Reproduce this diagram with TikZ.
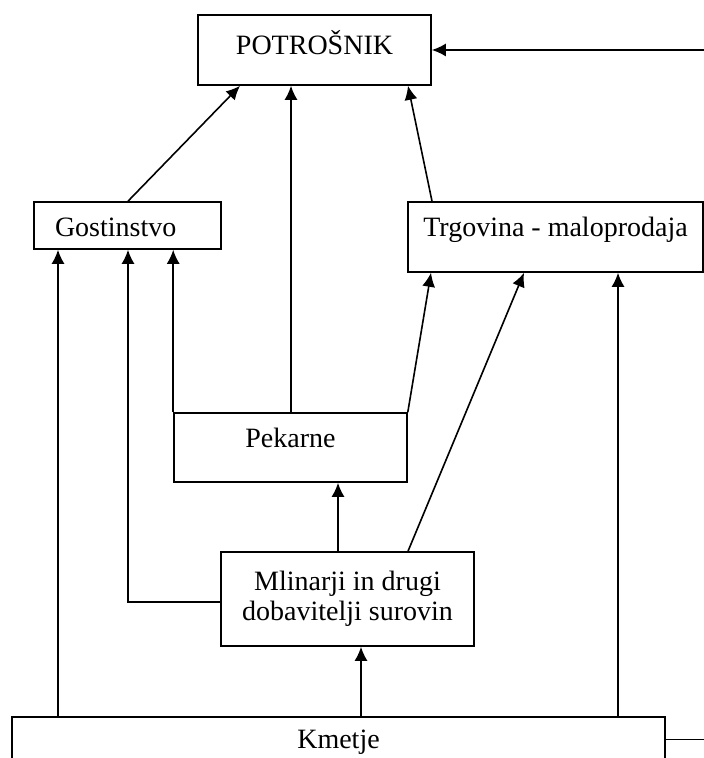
\documentclass[tikz,border=0pt]{standalone}
\usepackage{fontspec}
\setmainfont{Liberation Serif}
\usepackage{tikz}
\usetikzlibrary{arrows.meta,positioning,calc}

\begin{document}
\begin{tikzpicture}[
x=0.5pt, y=-0.5pt, line width=0.8pt,
>={Latex[length=7pt,width=6.5pt]},
box-node/.style = {rectangle,draw=black,line width=0.8pt,inner ysep=0pt,
  font=\fontsize{14}{15}\selectfont}
]
\useasboundingbox (0,0) rectangle (704,758);

\node [box-node, minimum width=116.5pt, text height=20pt, text depth=15pt] (potrosnik) at (314.5, 50) {POTROŠNIK};
\node [box-node, text width=72.5pt, inner xsep=10.5pt, align=left, text height=17.5pt, text depth=6pt] (gostinstvo) at (127.5, 225.5) {Gostinstvo};
\node [box-node, minimum width=147.5pt, text height=17.5pt, text depth=17.5pt] (trgovina) at (555.5, 237) {Trgovina - maloprodaja};

\node [box-node, minimum width=116.5pt, text height=17pt, text depth=17.5pt] (pekarne) at (290.5, 447.5) {Pekarne};
\node [box-node, minimum width=126.5pt, minimum height=47pt, align=center] (mlinarji) at (347.5, 599) {Mlinarji in drugi\\dobavitelji surovin};

\node [box-node, minimum width=326.5pt, text height=15.5pt, text depth=10pt] (kmetje) at (338.5, 742.5) {Kmetje};


% arrows
\draw[->] (gostinstvo.north -| 128,0) -- (potrosnik.south -| 240,0);
\draw[->] (pekarne.north -| 291,0) -- (potrosnik.south -| 291,0);
\draw[->] (trgovina.north -| 432,0) -- (potrosnik.south -| 408,0);

\draw[->] (kmetje.north -| 58,0) -- (gostinstvo.south -| 58,0);
\draw[->] (mlinarji.west |- 0,602) -| (gostinstvo.south -| 128,0);
\draw[->] (pekarne.north west) -- (gostinstvo.south -| pekarne.north west);

\draw[->] (pekarne.north east) -- (trgovina.south -| 431,0);
\draw[->] (mlinarji.north -| 408,0) -- (trgovina.south -| 524,0);
\draw[->] (kmetje.north -| 618,0) -- (trgovina.south -| 618,0);

\draw[->] (mlinarji.north -| 338,0) -- (pekarne.south -| 338,0);
\draw[->] (kmetje.north -| 361,0) -- (mlinarji.south -| 361,0);

\draw[->] ([yshift=1.5pt]kmetje.east) -- ++(40,0) |- (potrosnik.east);


\end{tikzpicture}
\end{document}
